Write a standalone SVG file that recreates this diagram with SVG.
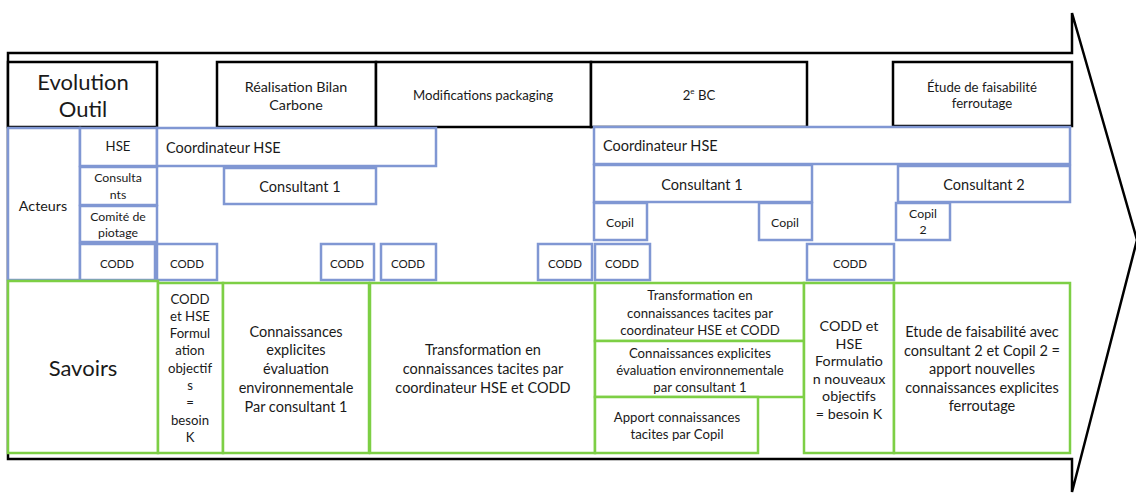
<svg xmlns="http://www.w3.org/2000/svg" width="1136" height="493" viewBox="0 0 1136 493">
<style>
text{font-family:Lato,"Liberation Sans",sans-serif;fill:#1a1a1a;text-anchor:middle;dominant-baseline:central}
.k{fill:#fff;stroke:#000;stroke-width:2.5}
.b{fill:#fff;stroke:#8097d3;stroke-width:2.5}
.g{fill:#fff;stroke:#7dcf45;stroke-width:2.5}
.s11{font-size:11.5px}.s115{font-size:12.3px}.s12{font-size:13.2px}.s13{font-size:14.3px}.s14{font-size:14.5px}.s22{font-size:22px}
.l{text-anchor:start}
</style>
<g id="connectors">
<polygon id="arrow" points="8,53 1072,53 1072,13 1137,240 1072,492 1072,459 8,459" fill="#fff" stroke="#000" stroke-width="2.5" stroke-linejoin="miter"/>
</g>
<g id="evolution"><rect class="k" x="8" y="62" width="149" height="65"/><text class="s22" x="83" y="81">Evolution</text><text class="s22" x="83" y="108">Outil</text></g>
<g id="bilan"><rect class="k" x="217" y="62" width="159" height="65"/><text class="s13" x="296" y="86">Réalisation Bilan</text><text class="s13" x="296" y="104">Carbone</text></g>
<g id="packaging"><rect class="k" x="376" y="62" width="215" height="65"/><text class="s12" x="483" y="95">Modifications packaging</text></g>
<g id="bc2"><rect class="k" x="591" y="62" width="216" height="65"/><text class="s12" x="699" y="95">2<tspan font-size="8" dy="-4">e</tspan><tspan dy="4"> BC</tspan></text></g>
<g id="etude"><rect class="k" x="893" y="62" width="179" height="64"/><text class="s12" x="982" y="87">Étude de faisabilité</text><text class="s12" x="982" y="103">ferroutage</text></g>

<g id="acteurs"><rect class="b" x="8" y="128" width="72" height="152"/><text class="s13" x="43" y="205">Acteurs</text></g>
<g id="hse"><rect class="b" x="80" y="128" width="77" height="38"/><text class="s12" x="118" y="146">HSE</text></g>
<g id="coord1"><rect class="b" x="157" y="128" width="279" height="38"/><text class="s14 l" x="166" y="147">Coordinateur HSE</text></g>
<g id="consultants"><rect class="b" x="80" y="167" width="77" height="38"/><text class="s115" x="118" y="177">Consulta</text><text class="s115" x="118" y="194">nts</text></g>
<g id="consult1a"><rect class="b" x="224" y="168" width="152" height="36"/><text class="s14" x="300" y="186">Consultant 1</text></g>
<g id="comite"><rect class="b" x="80" y="206" width="77" height="36"/><text class="s115" x="118" y="216">Comité de</text><text class="s115" x="118" y="232">piotage</text></g>
<g id="codd0"><rect class="b" x="80" y="244" width="75" height="36"/><text class="s11" x="117" y="263">CODD</text></g>
<g id="codd1"><rect class="b" x="157" y="244" width="60" height="36"/><text class="s11" x="187" y="263">CODD</text></g>
<g id="codd2"><rect class="b" x="321" y="244" width="53" height="36"/><text class="s11" x="347" y="263">CODD</text></g>
<g id="codd3"><rect class="b" x="381" y="244" width="55" height="36"/><text class="s11" x="408" y="263">CODD</text></g>
<g id="codd4"><rect class="b" x="538" y="244" width="54" height="36"/><text class="s11" x="565" y="263">CODD</text></g>
<g id="codd5"><rect class="b" x="595" y="244" width="55" height="36"/><text class="s11" x="622" y="263">CODD</text></g>
<g id="coord2"><rect class="b" x="594" y="127" width="476" height="37"/><text class="s14 l" x="603" y="145">Coordinateur HSE</text></g>
<g id="consult1b"><rect class="b" x="594" y="165" width="218" height="37"/><text class="s14" x="702" y="184">Consultant 1</text></g>
<g id="copil1"><rect class="b" x="594" y="203" width="53" height="37"/><text class="s115" x="620" y="222">Copil</text></g>
<g id="copil2"><rect class="b" x="759" y="203" width="53" height="37"/><text class="s115" x="785" y="222">Copil</text></g>
<g id="codd6"><rect class="b" x="807" y="244" width="87" height="36"/><text class="s11" x="850" y="263">CODD</text></g>
<g id="consult2"><rect class="b" x="898" y="166" width="172" height="36"/><text class="s14" x="984" y="184">Consultant 2</text></g>
<g id="copilb"><rect class="b" x="896" y="203" width="54" height="37"/><text class="s115" x="923" y="213">Copil</text><text class="s115" x="923" y="229">2</text></g>

<g id="savoirs"><rect class="g" x="8" y="281" width="150" height="172"/><text class="s22" x="83" y="367">Savoirs</text></g>
<g id="obj1"><rect class="g" x="158" y="283" width="65" height="170"/>
<text class="s12" x="190" y="299">CODD</text><text class="s12" x="190" y="316">et HSE</text><text class="s12" x="190" y="333">Formul</text><text class="s12" x="190" y="350">ation</text><text class="s12" x="190" y="368">objectif</text><text class="s12" x="190" y="385">s</text><text class="s12" x="190" y="402">=</text><text class="s12" x="190" y="420">besoin</text><text class="s12" x="190" y="437">K</text></g>
<g id="explicit1"><rect class="g" x="223" y="283" width="146" height="170"/>
<text class="s14" x="296" y="331">Connaissances</text><text class="s14" x="296" y="349">explicites</text><text class="s14" x="296" y="368">évaluation</text><text class="s14" x="296" y="387">environnementale</text><text class="s14" x="296" y="406">Par consultant 1</text></g>
<g id="transfo1"><rect class="g" x="370" y="283" width="225" height="170"/>
<text class="s14" x="483" y="349">Transformation en</text><text class="s14" x="483" y="368">connaissances tacites par</text><text class="s14" x="483" y="387">coordinateur HSE et CODD</text></g>
<g id="transfo2"><rect class="g" x="595" y="283" width="209" height="58"/>
<text class="s12" x="700" y="295">Transformation en</text><text class="s12" x="700" y="313">connaissances tacites par</text><text class="s12" x="700" y="330">coordinateur HSE et CODD</text></g>
<g id="explicit2"><rect class="g" x="595" y="341" width="209" height="56"/>
<text class="s12" x="700" y="353">Connaissances explicites</text><text class="s12" x="700" y="370">évaluation environnementale</text><text class="s12" x="700" y="387">par consultant 1</text></g>
<g id="apport"><rect class="g" x="595" y="397" width="163" height="56"/>
<text class="s12" x="677" y="417">Apport connaissances</text><text class="s12" x="677" y="434">tacites par Copil</text></g>
<g id="obj2"><rect class="g" x="804" y="283" width="90" height="170"/>
<text class="s13" x="849" y="325">CODD et</text><text class="s13" x="849" y="343">HSE</text><text class="s13" x="849" y="360">Formulatio</text><text class="s13" x="849" y="378">n nouveaux</text><text class="s13" x="849" y="395">objectifs</text><text class="s13" x="849" y="413">= besoin K</text></g>
<g id="etude2"><rect class="g" x="894" y="283" width="176" height="170"/>
<text class="s14" x="982" y="331">Etude de faisabilité avec</text><text class="s14" x="982" y="350">consultant 2 et Copil 2 =</text><text class="s14" x="982" y="368">apport nouvelles</text><text class="s14" x="982" y="387">connaissances explicites</text><text class="s14" x="982" y="405">ferroutage</text></g>
</svg>
